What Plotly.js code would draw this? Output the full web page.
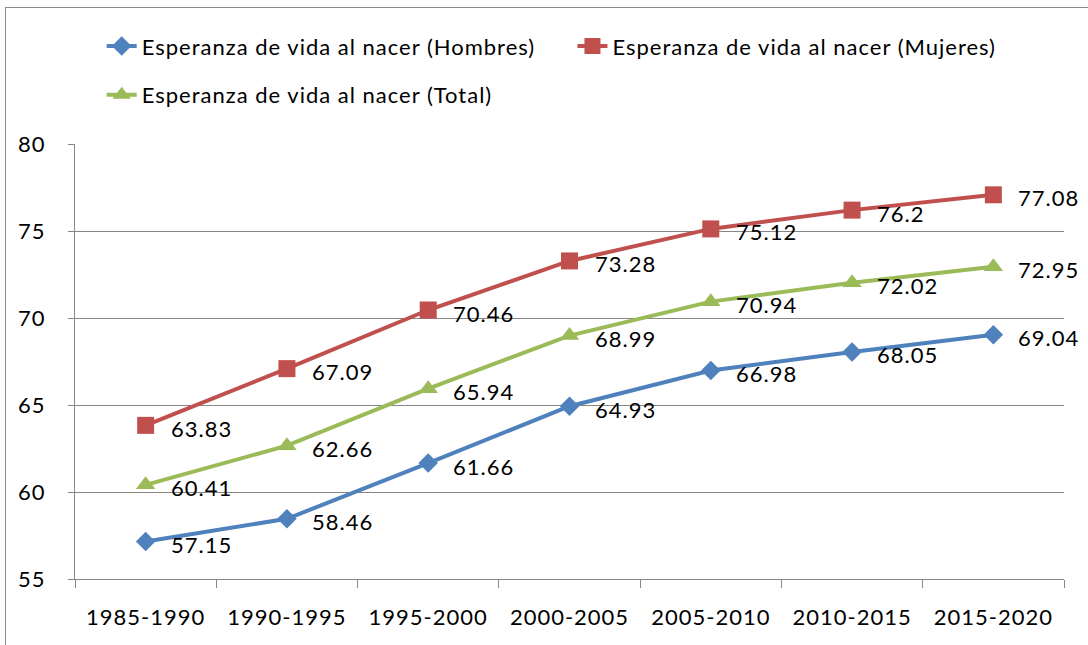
<!DOCTYPE html>
<html>
<head>
<meta charset="utf-8">
<script src="https://cdn.plot.ly/plotly-3.0.1.min.js"></script>
<style>
html,body{margin:0;padding:0;background:#fff;overflow:hidden;}
#frame{position:absolute;left:5px;top:7px;width:1200px;height:800px;border:1px solid #8c8c8c;box-sizing:border-box;}
#chart{position:absolute;left:0;top:0;width:1088px;height:645px;}
text{letter-spacing:1px;}
</style>
</head>
<body>
<div id="frame"></div>
<div id="chart"></div>
<script>
const categories = ["1985-1990","1990-1995","1995-2000","2000-2005","2005-2010","2010-2015","2015-2020"];
const hombres = [57.15, 58.46, 61.66, 64.93, 66.98, 68.05, 69.04];
const mujeres = [63.83, 67.09, 70.46, 73.28, 75.12, 76.2, 77.08];
const total = [60.41, 62.66, 65.94, 68.99, 70.94, 72.02, 72.95];
const names = ["Esperanza de vida al nacer (Hombres)","Esperanza de vida al nacer (Mujeres)","Esperanza de vida al nacer (Total)"];
const yTicks = [55, 60, 65, 70, 75, 80];

const FONT = "Lato, 'Open Sans', sans-serif";
const FS = 22;
function tr(y, name, color, symbol, size, legend){
  return {
    x: categories, y: y, name: name, type: "scatter", mode: "lines+markers",
    line: {color: color, width: 4},
    marker: {color: color, symbol: symbol, size: size},
    legend: legend, cliponaxis: false, hoverinfo: "x+y"
  };
}
const data = [
  tr(hombres, names[0], "#4F81BD", "diamond", 15, "legend"),
  tr(mujeres, names[1], "#C0504D", "square", 17, "legend2"),
  tr(total, names[2], "#9BBB59", "triangle-up", 17, "legend3")
];
const annotations = [];
[hombres, mujeres, total].forEach(series => {
  series.forEach((v, i) => {
    annotations.push({x: categories[i], y: v, xref: "x", yref: "y", text: String(v),
      showarrow: false, xanchor: "left", yanchor: "middle", xshift: 23, yshift: -3,
      font: {family: FONT, size: FS, color: "#000"}});
  });
});
function leg(x, y){
  return {orientation: "v", x: x, xanchor: "left", y: y, yanchor: "middle",
          font: {family: FONT, size: FS, color: "#000"}, bgcolor: "rgba(0,0,0,0)", itemwidth: 30};
}
const layout = {
  width: 1088, height: 645,
  margin: {l: 75, r: 24, t: 144, b: 66, autoexpand: false},
  paper_bgcolor: "rgba(0,0,0,0)", plot_bgcolor: "rgba(0,0,0,0)",
  font: {family: FONT, size: FS, color: "#000"},
  showlegend: true,
  legend: leg(0.027, 1.225),
  legend2: leg(0.503, 1.225),
  legend3: leg(0.027, 1.113),
  annotations: annotations,
  xaxis: {type: "category", range: [-0.5, 6.5], tickson: "boundaries", ticks: "outside", ticklen: 8, tickcolor: "#868686",
          showline: true, linecolor: "#868686", linewidth: 1, showgrid: false, zeroline: false,
          tickfont: {family: FONT, size: FS}, ticklabelstandoff: 19, fixedrange: true, automargin: false},
  yaxis: {range: [55, 80], tickvals: yTicks, ticks: "outside", ticklen: 6, tickcolor: "#868686",
          showline: true, linecolor: "#868686", linewidth: 1, showgrid: true, gridcolor: "#868686",
          gridwidth: 1, zeroline: false, tickfont: {family: FONT, size: FS}, ticklabelstandoff: 18,
          fixedrange: true, automargin: false}
};
Plotly.newPlot("chart", data, layout, {displayModeBar: false, staticPlot: true});
</script>
</body>
</html>
